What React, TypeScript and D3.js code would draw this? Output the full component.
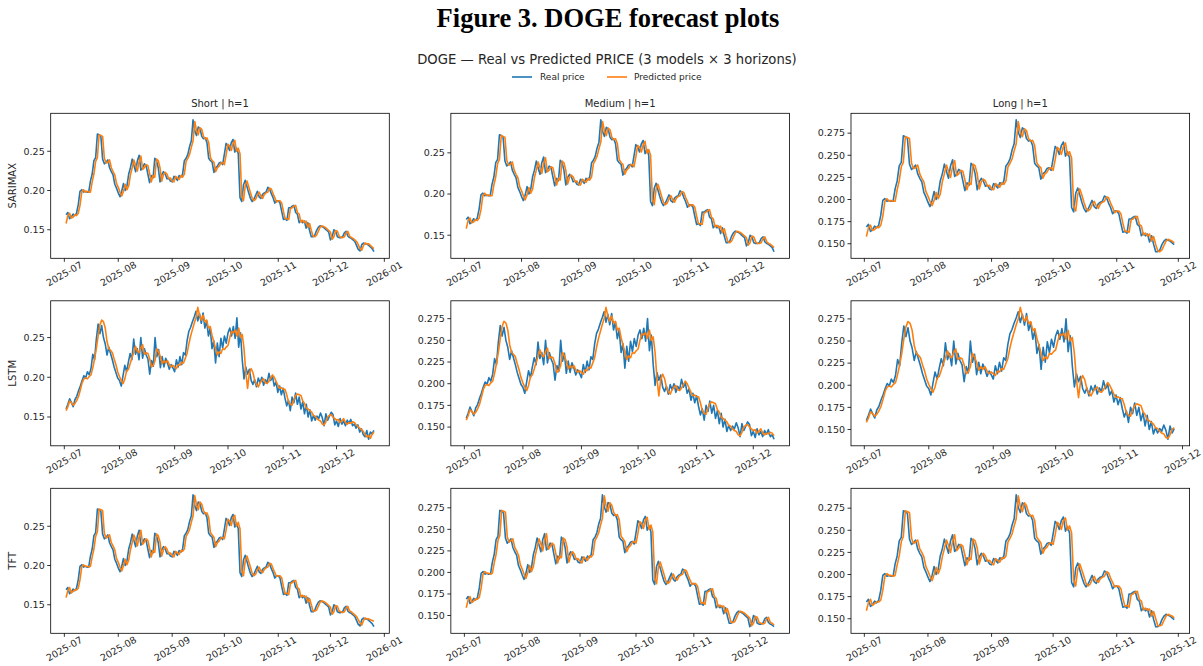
import React from "react";
import * as d3 from "d3";

// ---- data -------------------------------------------------------------
const START_DATE = "2025-07-02";
const MODELS = ["SARIMAX", "LSTM", "TFT"];
const HORIZONS = ["Short", "Medium", "Long"];

// daily DOGE close, 2025-07-02 .. 2025-12-26
const realPrice = [
  0.169, 0.172, 0.164, 0.166, 0.170, 0.168, 0.171, 0.182, 0.199, 0.201,
  0.198, 0.199, 0.198, 0.198, 0.212, 0.221, 0.238, 0.242, 0.272, 0.271,
  0.269, 0.240, 0.234, 0.236, 0.239, 0.229, 0.224, 0.220, 0.208, 0.203,
  0.197, 0.192, 0.199, 0.209, 0.200, 0.206, 0.221, 0.229, 0.240, 0.232,
  0.224, 0.238, 0.245, 0.226, 0.229, 0.234, 0.232, 0.221, 0.210, 0.219,
  0.216, 0.241, 0.238, 0.229, 0.211, 0.220, 0.224, 0.221, 0.215, 0.216, 0.212,
  0.211, 0.218, 0.216, 0.213, 0.219, 0.217, 0.221, 0.238, 0.241, 0.246,
  0.256, 0.263, 0.290, 0.276, 0.270, 0.281, 0.279, 0.269, 0.266, 0.267,
  0.261, 0.241, 0.238, 0.236, 0.223, 0.229, 0.231, 0.235, 0.236, 0.233,
  0.246, 0.260, 0.257, 0.251, 0.261, 0.265, 0.249, 0.254, 0.247, 0.191,
  0.186, 0.207, 0.213, 0.205, 0.197, 0.190, 0.186, 0.189, 0.194, 0.199,
  0.192, 0.190, 0.195, 0.197, 0.198, 0.204, 0.202, 0.196, 0.191, 0.184, 0.187,
  0.187, 0.184, 0.173, 0.163, 0.164, 0.162, 0.178, 0.178, 0.180, 0.181,
  0.172, 0.170, 0.159, 0.162, 0.159, 0.161, 0.152, 0.159, 0.149, 0.141,
  0.141, 0.143, 0.149, 0.153, 0.155, 0.154, 0.153, 0.151, 0.149, 0.147,
  0.137, 0.141, 0.150, 0.148, 0.141, 0.140, 0.140, 0.141, 0.146, 0.148,
  0.142, 0.140, 0.139, 0.137, 0.135, 0.130, 0.125, 0.123, 0.131, 0.133,
  0.132, 0.132, 0.130, 0.128, 0.126, 0.122,
];

const predSarimax = [
  0.158, 0.168, 0.171, 0.165, 0.166, 0.169, 0.168, 0.171, 0.181, 0.198,
  0.201, 0.198, 0.199, 0.198, 0.198, 0.211, 0.221, 0.237, 0.242, 0.271,
  0.270, 0.269, 0.241, 0.235, 0.236, 0.239, 0.229, 0.224, 0.220, 0.209,
  0.204, 0.198, 0.193, 0.199, 0.208, 0.201, 0.206, 0.220, 0.229, 0.239,
  0.232, 0.225, 0.237, 0.244, 0.227, 0.229, 0.233, 0.232, 0.222, 0.211,
  0.219, 0.217, 0.240, 0.238, 0.229, 0.212, 0.220, 0.223, 0.221, 0.215, 0.216,
  0.212, 0.211, 0.218, 0.216, 0.214, 0.219, 0.217, 0.221, 0.237, 0.241,
  0.246, 0.255, 0.263, 0.288, 0.276, 0.271, 0.280, 0.278, 0.269, 0.266,
  0.267, 0.261, 0.242, 0.238, 0.236, 0.224, 0.229, 0.231, 0.235, 0.236,
  0.233, 0.245, 0.259, 0.257, 0.251, 0.260, 0.264, 0.250, 0.254, 0.247,
  0.193, 0.187, 0.206, 0.212, 0.205, 0.197, 0.190, 0.187, 0.189, 0.194,
  0.198, 0.193, 0.190, 0.195, 0.197, 0.198, 0.203, 0.202, 0.196, 0.191, 0.185,
  0.187, 0.187, 0.184, 0.173, 0.164, 0.164, 0.163, 0.177, 0.178, 0.180,
  0.181, 0.172, 0.170, 0.160, 0.162, 0.159, 0.161, 0.153, 0.158, 0.149,
  0.142, 0.141, 0.143, 0.148, 0.153, 0.155, 0.154, 0.153, 0.151, 0.149,
  0.147, 0.138, 0.141, 0.149, 0.148, 0.142, 0.140, 0.140, 0.141, 0.146,
  0.148, 0.142, 0.140, 0.139, 0.137, 0.135, 0.131, 0.126, 0.124, 0.130,
  0.133, 0.132, 0.132, 0.130, 0.128, 0.126,
];

const predTft = [
  0.159, 0.168, 0.172, 0.165, 0.167, 0.169, 0.169, 0.171, 0.182, 0.198,
  0.201, 0.199, 0.199, 0.198, 0.199, 0.211, 0.221, 0.237, 0.243, 0.272,
  0.271, 0.270, 0.241, 0.235, 0.237, 0.239, 0.229, 0.225, 0.220, 0.209,
  0.204, 0.198, 0.193, 0.200, 0.208, 0.201, 0.207, 0.220, 0.229, 0.239,
  0.233, 0.225, 0.237, 0.245, 0.227, 0.230, 0.234, 0.232, 0.222, 0.211,
  0.219, 0.217, 0.240, 0.238, 0.230, 0.212, 0.220, 0.224, 0.221, 0.215, 0.216,
  0.213, 0.211, 0.218, 0.216, 0.214, 0.219, 0.218, 0.221, 0.237, 0.241,
  0.246, 0.255, 0.263, 0.289, 0.277, 0.271, 0.281, 0.278, 0.270, 0.266,
  0.267, 0.261, 0.242, 0.239, 0.236, 0.224, 0.229, 0.231, 0.235, 0.236,
  0.234, 0.245, 0.259, 0.257, 0.251, 0.261, 0.264, 0.250, 0.255, 0.247,
  0.194, 0.187, 0.206, 0.212, 0.205, 0.198, 0.190, 0.187, 0.189, 0.194,
  0.198, 0.193, 0.191, 0.195, 0.197, 0.198, 0.203, 0.202, 0.196, 0.191, 0.186,
  0.187, 0.187, 0.184, 0.173, 0.164, 0.165, 0.163, 0.177, 0.178, 0.180,
  0.181, 0.172, 0.170, 0.160, 0.162, 0.160, 0.161, 0.153, 0.158, 0.150,
  0.142, 0.142, 0.143, 0.148, 0.153, 0.155, 0.154, 0.153, 0.151, 0.149,
  0.147, 0.138, 0.141, 0.149, 0.148, 0.142, 0.141, 0.140, 0.141, 0.146,
  0.148, 0.142, 0.141, 0.139, 0.137, 0.135, 0.131, 0.127, 0.124, 0.130,
  0.133, 0.132, 0.132, 0.131, 0.130, 0.129,
];

// LSTM test window: 2025-07-02 .. 2025-12-22
const realPriceLstm = [
  0.160, 0.166, 0.173, 0.168, 0.163, 0.172, 0.176, 0.183, 0.189, 0.196,
  0.202, 0.199, 0.207, 0.203, 0.211, 0.229, 0.222, 0.248, 0.267, 0.255,
  0.265, 0.250, 0.242, 0.228, 0.238, 0.230, 0.222, 0.213, 0.206, 0.199,
  0.196, 0.189, 0.202, 0.215, 0.207, 0.219, 0.230, 0.222, 0.248, 0.229,
  0.236, 0.222, 0.250, 0.224, 0.236, 0.228, 0.223, 0.204, 0.221, 0.214,
  0.250, 0.226, 0.235, 0.212, 0.226, 0.213, 0.224, 0.218, 0.210, 0.216, 0.212,
  0.207, 0.222, 0.213, 0.226, 0.216, 0.231, 0.228, 0.246, 0.258, 0.263,
  0.270, 0.276, 0.283, 0.271, 0.280, 0.268, 0.281, 0.262, 0.271, 0.252,
  0.262, 0.236, 0.246, 0.218, 0.243, 0.226, 0.249, 0.237, 0.252, 0.243,
  0.256, 0.262, 0.252, 0.264, 0.249, 0.275, 0.238, 0.256, 0.222, 0.198,
  0.213, 0.204, 0.210, 0.196, 0.191, 0.197, 0.188, 0.199, 0.193, 0.200,
  0.190, 0.197, 0.193, 0.205, 0.196, 0.201, 0.189, 0.194, 0.181, 0.189, 0.178,
  0.186, 0.174, 0.164, 0.171, 0.158, 0.175, 0.168, 0.180, 0.166, 0.175,
  0.160, 0.169, 0.154, 0.166, 0.150, 0.159, 0.145, 0.152, 0.146, 0.151,
  0.148, 0.155, 0.149, 0.139, 0.154, 0.146, 0.151, 0.156, 0.153, 0.140,
  0.145, 0.138, 0.148, 0.141, 0.145, 0.139, 0.146, 0.142, 0.147, 0.139,
  0.141, 0.136, 0.140, 0.131, 0.135, 0.128, 0.125, 0.133, 0.122, 0.131,
  0.129, 0.133,
];

const predLstm = [
  0.158, 0.163, 0.170, 0.168, 0.165, 0.167, 0.171, 0.176, 0.184, 0.193,
  0.198, 0.199, 0.198, 0.201, 0.203, 0.212, 0.223, 0.236, 0.252, 0.266,
  0.272, 0.270, 0.262, 0.245, 0.236, 0.234, 0.231, 0.223, 0.216, 0.207,
  0.201, 0.196, 0.192, 0.198, 0.208, 0.210, 0.217, 0.225, 0.231, 0.239,
  0.233, 0.231, 0.237, 0.241, 0.229, 0.231, 0.230, 0.223, 0.213, 0.215,
  0.221, 0.236, 0.232, 0.226, 0.217, 0.221, 0.218, 0.221, 0.216, 0.213, 0.215,
  0.213, 0.211, 0.216, 0.215, 0.219, 0.218, 0.224, 0.230, 0.242, 0.252,
  0.260, 0.268, 0.275, 0.288, 0.278, 0.272, 0.278, 0.270, 0.272, 0.262,
  0.264, 0.253, 0.245, 0.236, 0.228, 0.232, 0.230, 0.236, 0.235, 0.238,
  0.240, 0.250, 0.258, 0.256, 0.259, 0.252, 0.262, 0.250, 0.254, 0.236,
  0.206, 0.186, 0.205, 0.211, 0.206, 0.196, 0.191, 0.188, 0.193, 0.196,
  0.198, 0.193, 0.192, 0.195, 0.199, 0.203, 0.200, 0.195, 0.190, 0.186, 0.187,
  0.185, 0.185, 0.178, 0.169, 0.166, 0.165, 0.172, 0.177, 0.179, 0.178,
  0.177, 0.170, 0.167, 0.161, 0.160, 0.158, 0.156, 0.152, 0.151, 0.148,
  0.146, 0.145, 0.141, 0.140, 0.144, 0.150, 0.152, 0.153, 0.150, 0.148,
  0.146, 0.147, 0.143, 0.145, 0.148, 0.143, 0.141, 0.143, 0.142, 0.144,
  0.143, 0.140, 0.138, 0.136, 0.134, 0.132, 0.128, 0.125, 0.127, 0.123,
  0.128, 0.131,
];

// number of days shown per horizon (Short, Medium, Long)
const sarimaxLengths = [178, 168, 151];
const lstmLengths = [174, 164, 149];
const tftLengths = [178, 166, 151];

// y tick labels
const yTicksCoarse = ["0.15", "0.20", "0.25"];
const yTicksFine = ["0.150", "0.175", "0.200", "0.225", "0.250", "0.275"];
const sarimaxTicks = [yTicksCoarse, yTicksCoarse, yTicksFine];
const lstmTicks = [yTicksCoarse, yTicksFine, yTicksFine];
const tftTicks = [yTicksCoarse, yTicksFine, yTicksFine];

const LEGEND_LABELS = ["Real price", "Predicted price"];

// ---- layout -----------------------------------------------------------
const W = 1203;
const H = 666;
const PANEL_W = 338.6;
const PANEL_H = 145;
const LEFT0 = 50.7;
const COL_STEP = 400.15;
const TOP0 = 113.3;
const ROW_STEP = 187.5;
const BLUE = "#1f77b4";
const ORANGE = "#ff7f0e";
const INK = "#262626";
const FONT = "DejaVu Sans, sans-serif";
const LINE_W = 1.6;

const modelData: Record<string, { real: number[]; pred: number[]; lengths: number[]; ticks: string[][] }> = {
  SARIMAX: { real: realPrice, pred: predSarimax, lengths: sarimaxLengths, ticks: sarimaxTicks },
  LSTM: { real: realPriceLstm, pred: predLstm, lengths: lstmLengths, ticks: lstmTicks },
  TFT: { real: realPrice, pred: predTft, lengths: tftLengths, ticks: tftTicks },
};

const start = d3.timeParse("%Y-%m-%d")(START_DATE) as Date;
const fmtMonth = d3.timeFormat("%Y-%m");

function Panel({ model, hIdx, row }: { model: string; hIdx: number; row: number }) {
  const md = modelData[model];
  const n = md.lengths[hIdx];
  const real = md.real.slice(0, n);
  const pred = md.pred.slice(0, n);
  const dates = real.map((_, i) => d3.timeDay.offset(start, i));

  const left = LEFT0 + hIdx * COL_STEP;
  const top = TOP0 + row * ROW_STEP;

  // 5% margins on both axes
  const t0 = +dates[0];
  const t1 = +dates[n - 1];
  const tPad = (t1 - t0) * 0.05;
  const x = d3.scaleTime().domain([new Date(t0 - tPad), new Date(t1 + tPad)]).range([0, PANEL_W]);

  const lo = Math.min(d3.min(real) as number, d3.min(pred) as number);
  const hi = Math.max(d3.max(real) as number, d3.max(pred) as number);
  const yPad = (hi - lo) * 0.05;
  const y = d3.scaleLinear().domain([lo - yPad, hi + yPad]).range([PANEL_H, 0]);

  const line = d3
    .line<number>()
    .x((_, i) => x(dates[i]))
    .y((v) => y(v));

  const xTicks = d3.timeMonth.range(x.domain()[0], x.domain()[1]);
  const yTickLabels = md.ticks[hIdx];

  return (
    <g transform={`translate(${left},${top})`}>
      {row === 0 && (
        <text x={PANEL_W / 2} y={-6} textAnchor="middle" fontSize={10} fill={INK} fontFamily={FONT}>
          {`${HORIZONS[hIdx]} | h=1`}
        </text>
      )}
      {hIdx === 0 && (
        <text
          transform={`translate(${12.5 - left},${PANEL_H / 2}) rotate(-90)`}
          textAnchor="middle"
          dy="0.35em"
          fontSize={10}
          fill={INK}
          fontFamily={FONT}
        >
          {model}
        </text>
      )}
      <path d={line(real) || ""} fill="none" stroke={BLUE} strokeWidth={LINE_W} strokeLinejoin="round" />
      <path d={line(pred) || ""} fill="none" stroke={ORANGE} strokeWidth={LINE_W} strokeLinejoin="round" />
      <rect x={0} y={0} width={PANEL_W} height={PANEL_H} fill="none" stroke="#000" strokeWidth={0.8} />
      {yTickLabels.map((lab) => {
        const yy = y(+lab);
        return (
          <g key={lab} transform={`translate(0,${yy})`}>
            <line x1={-3.5} x2={0} stroke="#000" strokeWidth={0.8} />
            <text x={-6} dy="0.35em" textAnchor="end" fontSize={9.5} fill={INK} fontFamily={FONT}>
              {lab}
            </text>
          </g>
        );
      })}
      {xTicks.map((t) => {
        const xx = x(t);
        return (
          <g key={+t} transform={`translate(${xx},${PANEL_H})`}>
            <line y1={0} y2={3.5} stroke="#000" strokeWidth={0.8} />
            <text
              transform="translate(0,15.5) rotate(-30)"
              textAnchor="middle"
              dy="0.35em"
              fontSize={9.5}
              fill={INK}
              fontFamily={FONT}
            >
              {fmtMonth(t)}
            </text>
          </g>
        );
      })}
    </g>
  );
}

export default function App() {
  const cx = 607;
  return (
    <svg
      width={W}
      height={H}
      viewBox={`0 0 ${W} ${H}`}
      style={{ position: "absolute", left: 0, top: 0, background: "#fff" }}
    >
      <rect width={W} height={H} fill="#fff" />
      <text
        x={cx + 1}
        y={27}
        textAnchor="middle"
        fontFamily="Liberation Serif, Times New Roman, serif"
        fontWeight="bold"
        fontSize={26.5}
        fill="#000"
      >
        Figure 3. DOGE forecast plots
      </text>
      <text x={cx} y={64} textAnchor="middle" fontFamily={FONT} fontSize={13.2} fill={INK}>
        DOGE — Real vs Predicted PRICE (3 models × 3 horizons)
      </text>
      <g fontFamily={FONT} fontSize={9} fill={INK}>
        <line x1={512} x2={532} y1={77} y2={77} stroke={BLUE} strokeWidth={LINE_W} />
        <text x={540} y={77} dy="0.35em">
          {LEGEND_LABELS[0]}
        </text>
        <line x1={607} x2={627} y1={77} y2={77} stroke={ORANGE} strokeWidth={LINE_W} />
        <text x={634} y={77} dy="0.35em">
          {LEGEND_LABELS[1]}
        </text>
      </g>
      {MODELS.map((m, r) =>
        HORIZONS.map((_, h) => <Panel key={`${m}-${h}`} model={m} hIdx={h} row={r} />)
      )}
    </svg>
  );
}
